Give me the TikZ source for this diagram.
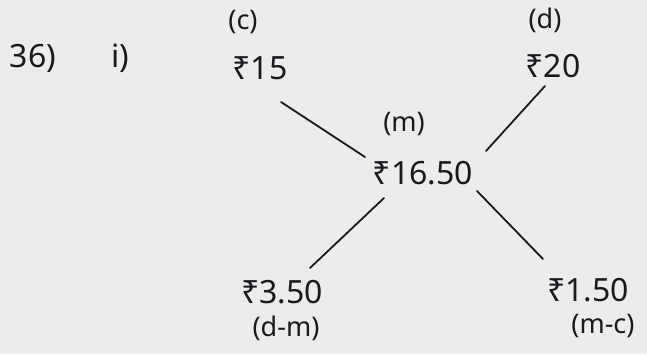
\documentclass[tikz,border=0pt]{standalone}
\usepackage{fontspec}
\setmainfont{Noto Sans}
\definecolor{paper}{RGB}{236,236,237}
\definecolor{ink}{RGB}{25,25,30}
\begin{document}
\begin{tikzpicture}[x=1pt,y=-1pt,
  big/.style={text=ink,font=\fontsize{32}{36}\selectfont,inner sep=1pt},
  small/.style={text=ink,font=\fontsize{27}{30}\selectfont,inner sep=1pt},
  link/.style={draw=ink,line width=1.8pt,line cap=round}]
\fill[paper] (0,0) rectangle (647,354);
\useasboundingbox (0,0) rectangle (647,354);
\node[big] (q) at (33,58) {36)};
\node[big] (qi) at (120,58) {i)};
\node[small] (cl) at (243,22) {(c)};
\node[big] (c) at (260,68) {₹15};
\node[small] (dl) at (545,20) {(d)};
\node[big] (d) at (553,66) {₹20};
\node[small] (ml) at (404,124) {(m)};
\node[big] (m) at (423,173) {₹16.50};
\node[big] (dm) at (282,292) {₹3.50};
\node[small] (dml) at (286,328) {(d-m)};
\node[big] (mc) at (588,290) {₹1.50};
\node[small] (mcl) at (603,326) {(m-c)};
\coordinate (c1) at (281,102);
\coordinate (c2) at (365,157);
\coordinate (d1) at (545,86);
\coordinate (d2) at (486,151);
\coordinate (dm1) at (384,198);
\coordinate (dm2) at (310,268);
\coordinate (mc1) at (477,191);
\coordinate (mc2) at (543,259);
\draw[link] (c1) -- (c2);
\draw[link] (d1) -- (d2);
\draw[link] (dm1) -- (dm2);
\draw[link] (mc1) -- (mc2);
\end{tikzpicture}
\end{document}
